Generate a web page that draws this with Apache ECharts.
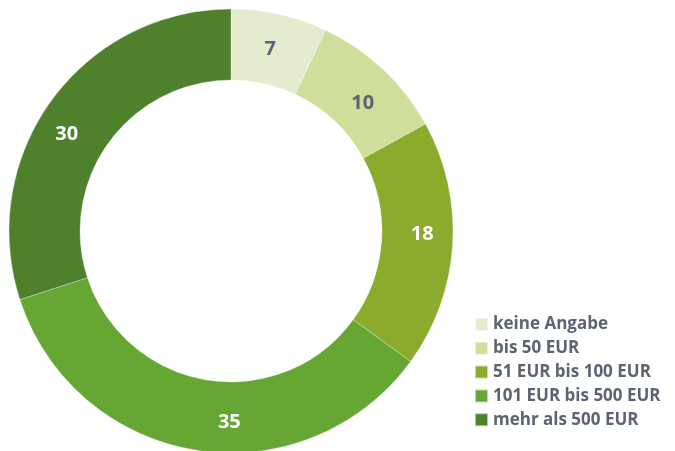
<!DOCTYPE html>
<html><head><meta charset="utf-8">
<script src="https://cdn.jsdelivr.net/npm/echarts@6/dist/echarts.min.js"></script>
<style>html,body{margin:0;padding:0;background:#fff}#c{width:675px;height:451px}</style>
</head><body><div id="c"></div>
<script>
const categories = ["keine Angabe", "bis 50 EUR", "51 EUR bis 100 EUR", "101 EUR bis 500 EUR", "mehr als 500 EUR"];
const values = [7, 10, 18, 35, 30];
const colors = ["#e4ebcf", "#cfdf9b", "#8aab2b", "#66a633", "#4f812d"];
const labelColors = ["#5b6470", "#5b6470", "#ffffff", "#ffffff", "#ffffff"];
const labelOffsets = [[-2, 3], [2, 10], [2, -9], [28, 4], [-11, 15]];

const chart = echarts.init(document.getElementById('c'));
chart.setOption({
  animation: false,
  color: colors,
  legend: {
    orient: 'vertical',
    left: 474,
    top: 316,
    padding: 0,
    itemWidth: 13,
    itemHeight: 13,
    itemGap: 6.8,
    icon: 'rect',
    textStyle: { fontFamily: 'Open Sans', fontWeight: 'bold', fontSize: 17, color: '#5b6470' },
    data: categories
  },
  series: [{
    type: 'pie',
    center: [231, 231],
    radius: [151, 222],
    startAngle: 90,
    clockwise: true,
    itemStyle: { borderColor: 'rgba(255,255,255,0.6)', borderWidth: 0.5 },
    label: {
      position: 'inside',
      formatter: '{c}',
      fontFamily: 'Open Sans',
      fontWeight: 'bold',
      fontSize: 20
    },
    labelLine: { show: false },
    emphasis: { disabled: true },
    data: categories.map((n, i) => ({ name: n, value: values[i], label: { color: labelColors[i], offset: labelOffsets[i] } }))
  }]
});
</script></body></html>
